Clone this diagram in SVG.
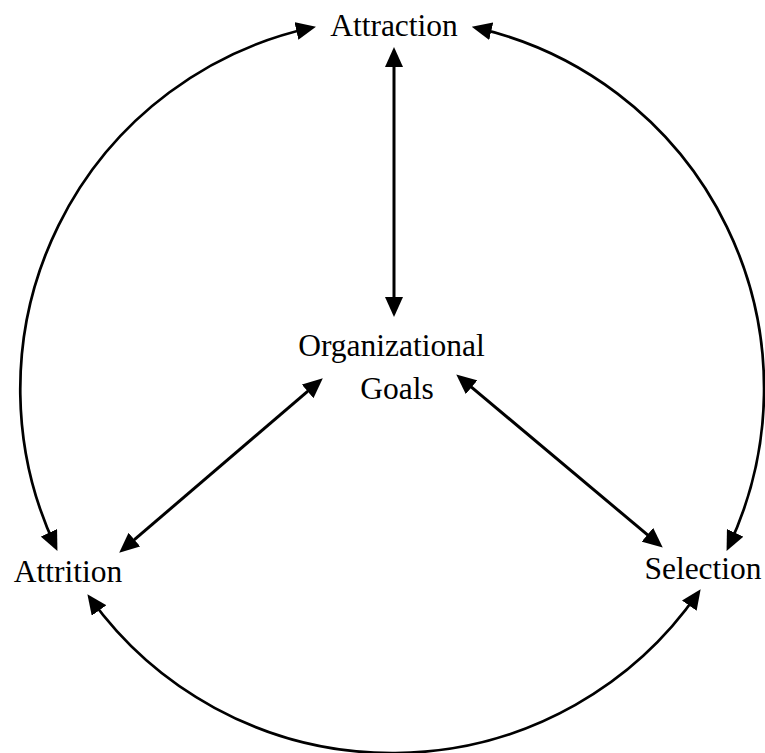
<svg xmlns="http://www.w3.org/2000/svg" width="765" height="753" viewBox="0 0 765 753">
  <style>
    .label { font-family: "Liberation Serif", "Times New Roman", serif; font-size: 31.5px; fill: #000; text-anchor: middle; }
    .link { fill: none; stroke: #000; stroke-linecap: butt; }
    .straight { stroke-width: 3; }
    .curve { stroke-width: 2.7; }
  </style>
  <defs>
    <marker id="arrow" viewBox="0 0 20 18" refX="15" refY="9" markerWidth="20" markerHeight="18" markerUnits="userSpaceOnUse" orient="auto-start-reverse">
      <path d="M0,0 L20,9 L0,18 z" fill="#000"/>
    </marker>
  </defs>
  <rect width="765" height="753" fill="#fff"/>

  <g id="connectors">
    <!-- outer ring: three curved two-way arrows -->
    <path class="link curve" d="M55.3,546.4 A370,370 0 0 1 311.1,27.8" marker-start="url(#arrow)" marker-end="url(#arrow)"/>
    <path class="link curve" d="M476.6,27.9 A370,370 0 0 1 728.7,546.4" marker-start="url(#arrow)" marker-end="url(#arrow)"/>
    <path class="link curve" d="M90.3,598.3 A372,372 0 0 0 697.8,593.3" marker-start="url(#arrow)" marker-end="url(#arrow)"/>
    <!-- spokes to the centre -->
    <line class="link straight" x1="394" y1="52" x2="394" y2="312" marker-start="url(#arrow)" marker-end="url(#arrow)"/>
    <line class="link straight" x1="319" y1="381.6" x2="123" y2="549.4" marker-start="url(#arrow)" marker-end="url(#arrow)"/>
    <line class="link straight" x1="460.1" y1="377.6" x2="658.9" y2="544.4" marker-start="url(#arrow)" marker-end="url(#arrow)"/>
  </g>

  <g id="attraction">
    <text class="label" x="394" y="36">Attraction</text>
  </g>
  <g id="goals">
    <text class="label" x="391.5" y="356">Organizational</text>
    <text class="label" x="397" y="399">Goals</text>
  </g>
  <g id="attrition">
    <text class="label" x="68" y="582">Attrition</text>
  </g>
  <g id="selection">
    <text class="label" x="703" y="579">Selection</text>
  </g>
</svg>
